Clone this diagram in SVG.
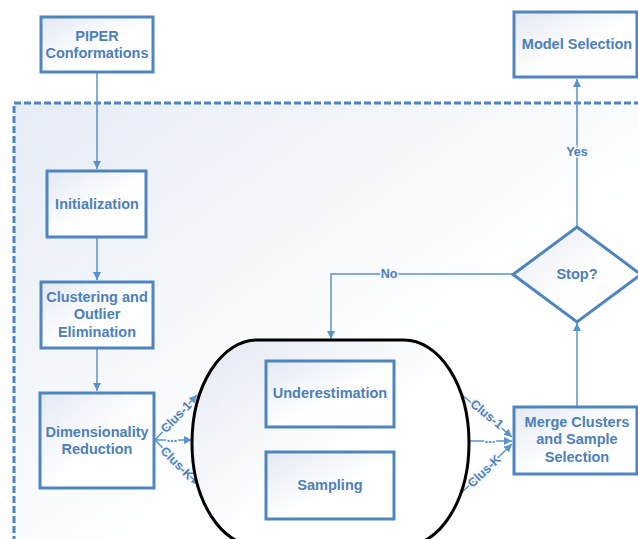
<svg xmlns="http://www.w3.org/2000/svg" width="638" height="539" viewBox="0 0 638 539">
<defs>
<linearGradient id="bg" x1="0" y1="0" x2="1" y2="1">
<stop offset="0" stop-color="#e6ecf5"/>
<stop offset="0.6" stop-color="#ffffff"/>
</linearGradient>
<linearGradient id="boxg" x1="0" y1="0" x2="1" y2="1">
<stop offset="0" stop-color="#e3e9f3"/>
<stop offset="0.55" stop-color="#ffffff"/>
</linearGradient>
<marker id="arr" markerUnits="userSpaceOnUse" markerWidth="9" markerHeight="8" refX="8" refY="4" orient="auto">
<path d="M0,0 L8,4 L0,8 z" fill="#5a93cc"/>
</marker>
<style>
.box{fill:url(#boxg);stroke:#4f85bf;stroke-width:3}
.t{font-family:"Liberation Sans",Arial,sans-serif;font-weight:bold;font-size:14.5px;fill:#4d80b9;text-anchor:middle}
.c{fill:none;stroke:#5a93cc;stroke-width:1.5}
.lbl{font-family:"Liberation Sans",Arial,sans-serif;font-weight:bold;font-size:12.5px;fill:#4d80b9;text-anchor:middle;stroke:#f6f8fc;stroke-width:3;paint-order:stroke}
</style>
</defs>
<rect width="638" height="539" fill="#ffffff"/>
<rect id="frame" x="14" y="103" width="640" height="460" fill="url(#bg)" stroke="#4f85bf" stroke-width="3" stroke-dasharray="7 3"/>

<g id="connectors">
<path class="c" d="M97,73 L97,169" marker-end="url(#arr)"/>
<path class="c" d="M97,238 L97,280" marker-end="url(#arr)"/>
<path class="c" d="M97,349 L97,391" marker-end="url(#arr)"/>
<path class="c" d="M155,440 L197,395" marker-end="url(#arr)"/>
<path class="c" d="M155,440 L192,440" marker-end="url(#arr)"/>
<path class="c" d="M155,440 L199,485" marker-end="url(#arr)"/>
<path class="c" d="M462,395 L512,437" marker-end="url(#arr)"/>
<path class="c" d="M470,441 L512,441" marker-end="url(#arr)"/>
<path class="c" d="M457,497 L512,444" marker-end="url(#arr)"/>
<path class="c" d="M577,406 L577,323" marker-end="url(#arr)"/>
<path class="c" d="M577,226 L577,79" marker-end="url(#arr)"/>
<path class="c" d="M513,274 L331,274 L331,339" marker-end="url(#arr)"/>
<text class="lbl" x="577" y="152" dy="0.35em">Yes</text>
<text class="lbl" x="389" y="274" dy="0.35em">No</text>
<text class="lbl" transform="translate(176,417) rotate(-46)" dy="0.35em">Clus-1</text>
<text class="lbl" x="172" y="438" dy="0.35em">...</text>
<text class="lbl" transform="translate(177,463) rotate(45)" dy="0.35em">Clus-K</text>
<text class="lbl" transform="translate(487,414) rotate(39)" dy="0.35em">Clus-1</text>
<text class="lbl" x="490" y="439" dy="0.35em">...</text>
<text class="lbl" transform="translate(484,471) rotate(-44)" dy="0.35em">Clus-K</text>
</g>

<g id="piper">
<rect class="box" x="41" y="17" width="112" height="55"/>
<text class="t" x="97" y="41">PIPER</text>
<text class="t" x="97" y="58">Conformations</text>
</g>
<g id="model">
<rect class="box" x="514" y="12" width="123" height="65"/>
<text class="t" x="577" y="49">Model Selection</text>
</g>
<g id="init">
<rect class="box" x="47" y="171" width="99" height="66"/>
<text class="t" x="97" y="209">Initialization</text>
</g>
<g id="cluster">
<rect class="box" x="41" y="282" width="112" height="66"/>
<text class="t" x="97" y="302">Clustering and</text>
<text class="t" x="97" y="319">Outlier</text>
<text class="t" x="97" y="337">Elimination</text>
</g>
<g id="dim">
<rect class="box" x="40" y="393" width="114" height="95"/>
<text class="t" x="97" y="437">Dimensionality</text>
<text class="t" x="97" y="454">Reduction</text>
</g>
<g id="loop">
<rect x="192" y="340" width="277" height="206" rx="65" ry="103" fill="url(#boxg)" stroke="#000000" stroke-width="3"/>
</g>
<g id="under">
<rect class="box" x="266" y="361" width="128" height="66"/>
<text class="t" x="330" y="398">Underestimation</text>
</g>
<g id="sampling">
<rect class="box" x="266" y="452" width="128" height="67"/>
<text class="t" x="330" y="490">Sampling</text>
</g>
<g id="stop">
<polygon class="box" points="577,227 641,274.5 577,322 513,274.5"/>
<text class="t" x="577" y="279">Stop?</text>
</g>
<g id="merge">
<rect class="box" x="514" y="407" width="123" height="67"/>
<text class="t" x="577" y="427">Merge Clusters</text>
<text class="t" x="577" y="444">and Sample</text>
<text class="t" x="577" y="462">Selection</text>
</g>
</svg>
